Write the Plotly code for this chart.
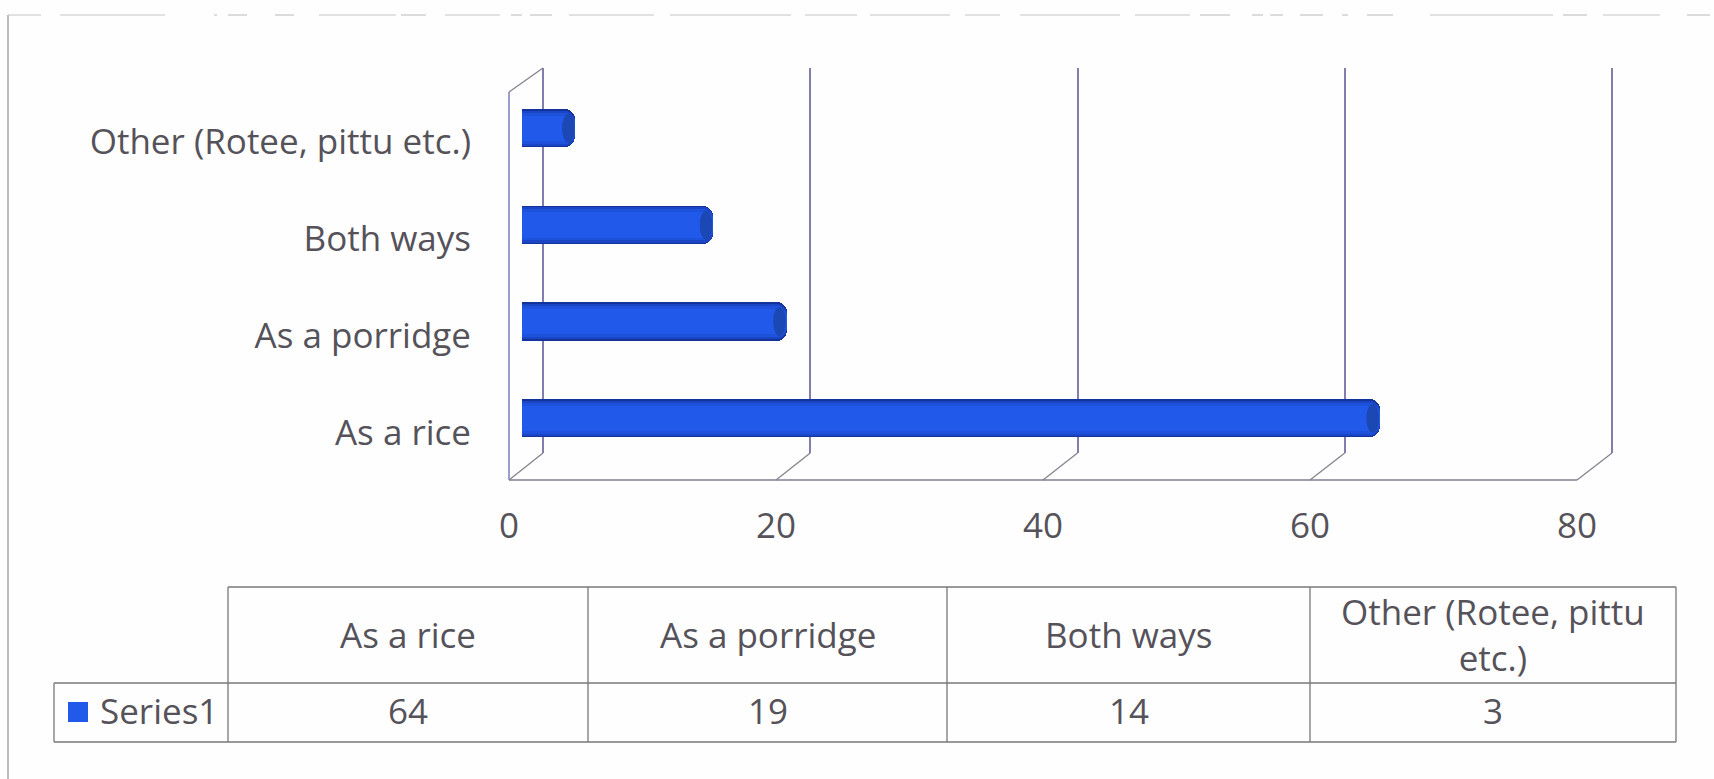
import plotly.graph_objects as go

# ---- data ----
categories = ["As a rice", "As a porridge", "Both ways", "Other (Rotee, pittu etc.)"]
table_headers = ["As a rice", "As a porridge", "Both ways", "Other (Rotee, pittu<br>etc.)"]
table_values = [64, 19, 14, 3]
bar_lengths = [64.2, 19.8, 14.3, 4.0]   # drawn lengths as read against the gridlines
series_name = "Series1"
x_ticks = [0, 20, 40, 60, 80]

W, H = 1714, 779
FONT = "Open Sans"
TEXT = "#55525a"
BLUE = "#2159ea"


def px(x):
    return x / W


def py(y):
    return 1 - y / H


fig = go.Figure()

# Depth planes of the pseudo-3D box, in pixels
FRONT = dict(x0=509, x1=1577, top=92, bot=480)
BACK = dict(x0=543, x1=1612, top=68, bot=453)
MID = dict(x0=522, x1=522 + 80 * 13.36, top=80, bot=466.5)
LABEL_DROP = 1.5   # category and value labels sit a little below the front plane

layers = [(0.395, "#12329c"), (0.365, "#1a45c4"), (0.32, "#1f52dc"), (0.26, BLUE)]
for width, colour in layers:
    fig.add_trace(go.Bar(
        y=categories, x=bar_lengths, orientation="h", width=width,
        marker=dict(color=colour, line_width=0, cornerradius=10),
        xaxis="x3", yaxis="y3", showlegend=False, hoverinfo="skip",
    ))

# Invisible traces so that the front plane and back wall axes exist
fig.add_trace(go.Bar(y=categories, x=table_values, orientation="h", opacity=0,
                     xaxis="x", yaxis="y", showlegend=False, hoverinfo="skip"))
fig.add_trace(go.Bar(y=categories, x=table_values, orientation="h", opacity=0,
                     xaxis="x2", yaxis="y2", showlegend=False, hoverinfo="skip"))

GRID = "#7f7eae"
shapes = []
# Floor line and left edge of the side wall
shapes.append(dict(type="line", xref="paper", yref="paper", x0=px(FRONT["x0"]), x1=px(FRONT["x1"]),
                   y0=py(FRONT["bot"]), y1=py(FRONT["bot"]), line=dict(color="#7f7e96", width=1.5)))
shapes.append(dict(type="line", xref="paper", yref="paper", x0=px(FRONT["x0"]), x1=px(FRONT["x0"]),
                   y0=py(FRONT["top"]), y1=py(FRONT["bot"]), line=dict(color="#7d7cc0", width=1.5)))
# Floor diagonals at each tick, plus the top of the side wall
for t in x_ticks:
    fx = FRONT["x0"] + (FRONT["x1"] - FRONT["x0"]) * t / 80
    bx = BACK["x0"] + (BACK["x1"] - BACK["x0"]) * t / 80
    shapes.append(dict(type="line", xref="paper", yref="paper", x0=px(fx), x1=px(bx),
                       y0=py(FRONT["bot"]), y1=py(BACK["bot"]),
                       line=dict(color="#84848f", width=1.3)))
shapes.append(dict(type="line", xref="paper", yref="paper",
                   x0=px(FRONT["x0"]), x1=px(BACK["x0"]), y0=py(FRONT["top"]), y1=py(BACK["top"]),
                   line=dict(color="#84848f", width=1.3)))
# Bar end caps
for k, v in enumerate(bar_lengths):
    shapes.append(dict(type="circle", xref="x3", yref="y3", layer="above",
                       x0=v - 1.0, x1=v - 0.05, y0=k - 0.15, y1=k + 0.15,
                       fillcolor="#1b48b4", line_width=0))

# Outer frame: left edge solid, top edge broken
shapes.append(dict(type="line", xref="paper", yref="paper", x0=px(8), x1=px(8), y0=py(15), y1=py(779),
                   line=dict(color="#8f8f8f", width=1.2)))
top_edge_runs = [(8, 41), (60, 165), (214, 217), (228, 247), (275, 294), (319, 396), (401, 426), (445, 500),
                 (511, 522), (530, 552), (569, 654), (670, 791), (805, 857), (870, 950), (965, 1000),
                 (1020, 1120), (1135, 1190), (1200, 1230), (1252, 1263), (1270, 1283), (1300, 1323),
                 (1342, 1348), (1367, 1393), (1430, 1553), (1563, 1587), (1603, 1660), (1687, 1710)]
for a, b in top_edge_runs:
    shapes.append(dict(type="line", xref="paper", yref="paper", x0=px(a), x1=px(b), y0=py(15), y1=py(15),
                       line=dict(color="#c4c4c4", width=1.2)))

# Data table
T_X = [228, 588, 947, 1310, 1676]
T_Y = [587, 683, 742]
T_L = 54
LINE = dict(color="#77777a", width=1.3)


def seg(x0, y0, x1, y1):
    shapes.append(dict(type="line", xref="paper", yref="paper", x0=px(x0), x1=px(x1),
                       y0=py(y0), y1=py(y1), line=LINE))


seg(T_X[0], T_Y[0], T_X[-1], T_Y[0])
seg(T_L, T_Y[1], T_X[-1], T_Y[1])
seg(T_L, T_Y[2], T_X[-1], T_Y[2])
seg(T_L, T_Y[1], T_L, T_Y[2])
for x in T_X:
    seg(x, T_Y[0], x, T_Y[2])
# Legend key
shapes.append(dict(type="rect", xref="paper", yref="paper", x0=px(68), x1=px(88),
                   y0=py(702), y1=py(722), fillcolor=BLUE, line_width=0))

FS = 35
annotations = []


def label(x, y, text):
    annotations.append(dict(xref="paper", yref="paper", x=px(x), y=py(y), text=text, showarrow=False,
                            xanchor="center", yanchor="middle", align="center",
                            font=dict(family=FONT, size=FS, color=TEXT)))


for i, (h, v) in enumerate(zip(table_headers, table_values)):
    cx = (T_X[i] + T_X[i + 1]) / 2
    label(cx, (T_Y[0] + T_Y[1]) / 2 - 1, h)
    label(cx, (T_Y[1] + T_Y[2]) / 2 - 2, str(v))
annotations.append(dict(xref="paper", yref="paper", x=px(98), y=py(710), text=series_name, showarrow=False,
                        xanchor="left", yanchor="middle", font=dict(family=FONT, size=FS, color=TEXT)))

tick_font = dict(family=FONT, size=FS, color=TEXT)
fig.update_layout(
    template="none",
    width=W, height=H, autosize=False,
    margin=dict(l=0, r=0, t=0, b=0),
    paper_bgcolor="#fefefe", plot_bgcolor="rgba(0,0,0,0)",
    barmode="overlay", showlegend=False, bargap=0,
    shapes=shapes, annotations=annotations,
    # front plane: value labels and category labels
    xaxis=dict(domain=[px(FRONT["x0"]), px(FRONT["x1"])], range=[0, 80], tickvals=x_ticks, automargin=False,
               showgrid=False, zeroline=False, showline=False,
               ticks="", ticklabelstandoff=20, tickfont=tick_font, anchor="y"),
    yaxis=dict(domain=[py(FRONT["bot"] + LABEL_DROP), py(FRONT["top"] + LABEL_DROP)],
               categoryorder="array", categoryarray=categories,
               automargin=False, range=[-0.5, 3.5], showgrid=False, zeroline=False, showline=False,
               ticks="", ticklabelstandoff=37, tickfont=tick_font, anchor="x"),
    # back wall gridlines (range runs a touch past 80 so that the last line is kept)
    xaxis2=dict(domain=[px(BACK["x0"]), px(BACK["x1"] + 4)], range=[0, 80 * (1 + 4 / (BACK["x1"] - BACK["x0"]))],
                tickvals=x_ticks, automargin=False,
                showgrid=True, gridcolor=GRID, gridwidth=1.5, zeroline=True, zerolinecolor=GRID,
                zerolinewidth=1.5, showline=False, showticklabels=False, ticks="", anchor="y2"),
    yaxis2=dict(domain=[py(BACK["bot"]), py(BACK["top"])], categoryorder="array", categoryarray=categories,
                range=[-0.5, 3.5], visible=False, anchor="x2"),
    # middle plane: the bars
    xaxis3=dict(domain=[px(MID["x0"]), px(MID["x1"])], range=[0, 80], visible=False, anchor="y3"),
    yaxis3=dict(domain=[py(MID["bot"]), py(MID["top"])], categoryorder="array", categoryarray=categories,
                range=[-0.5, 3.5], visible=False, anchor="x3"),
)

fig.write_html("out.html", config={"displayModeBar": False},
               post_script="document.body.style.margin='0';document.documentElement.style.overflow='hidden';")
